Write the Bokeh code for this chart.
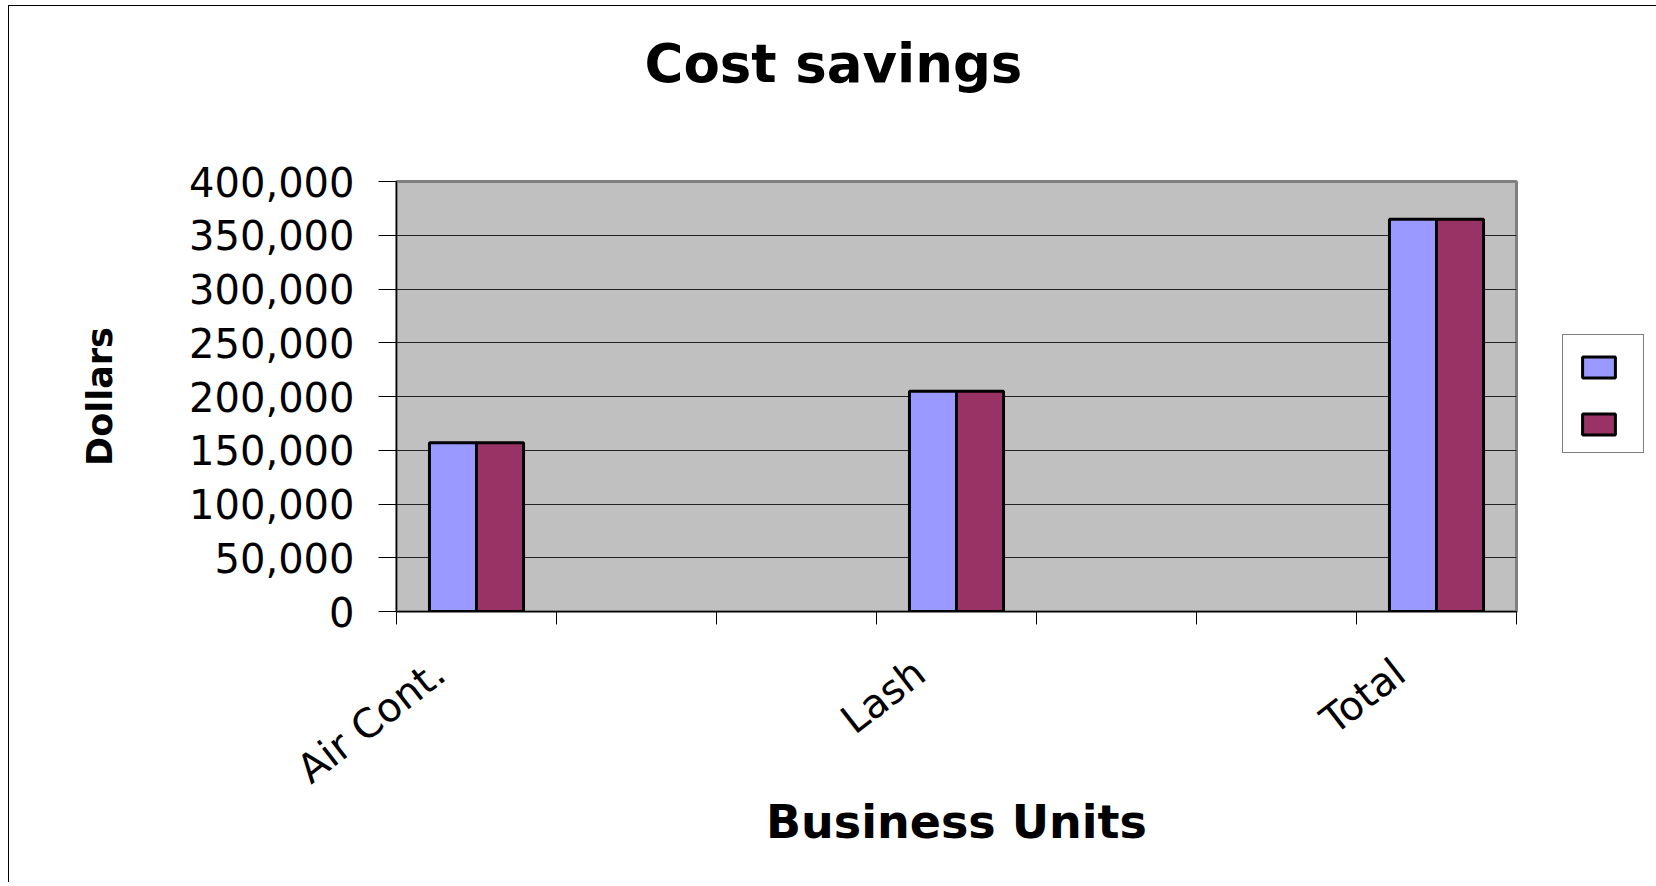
from bokeh.plotting import figure
from bokeh.models import (FixedTicker, NumeralTickFormatter, Range1d, Legend, LegendItem,
                          Title, ColumnDataSource)
from bokeh.transform import dodge
from bokeh.embed import file_html
from bokeh.resources import INLINE
import math

# ---- data ----
categories = ["Air Cont.", "", "", "Lash", "", "", "Total"]
series_a = [157000, None, None, 205000, None, None, 365000]
series_b = [157000, None, None, 205000, None, None, 365000]
y_ticks = [0, 50000, 100000, 150000, 200000, 250000, 300000, 350000, 400000]
title_text = "Cost savings"
x_title = "Business Units"
y_title = "Dollars"

FONT = "DejaVu Sans"

idx = [i for i, c in enumerate(categories) if series_a[i] is not None]
src = ColumnDataSource(dict(
    x=[i + 0.5 for i in idx],
    a=[series_a[i] for i in idx],
    b=[series_b[i] for i in idx],
))

p = figure(frame_width=1120, frame_height=430, output_backend="svg", toolbar_location=None,
           x_range=Range1d(0, len(categories)), y_range=Range1d(0, 400000),
           min_border_left=387, min_border_right=133, min_border_top=175,
           min_border_bottom=271, title=None)
p.styles = {"border-top": "1px solid #000000", "border-left": "1px solid #000000",
            "margin-left": "8px", "margin-top": "5px"}

p.background_fill_color = "#C0C0C0"
p.border_fill_color = "#FFFFFF"
p.outline_line_color = "#808080"
p.outline_line_width = 3

bw = 0.294
r1 = p.vbar(x=dodge("x", -bw / 2, range=p.x_range), top="a", width=bw, source=src,
            fill_color="#9999FF", line_color="#000000", line_width=3)
r2 = p.vbar(x=dodge("x", bw / 2, range=p.x_range), top="b", width=bw, source=src,
            fill_color="#993366", line_color="#000000", line_width=3)

# y axis
p.yaxis.ticker = FixedTicker(ticks=y_ticks)
p.yaxis.formatter = NumeralTickFormatter(format="0,0")
p.yaxis.major_label_text_font = FONT
p.yaxis.major_label_text_font_size = "40px"
p.yaxis.major_label_text_color = "#000000"
p.yaxis.major_tick_out = 18
p.yaxis.major_tick_in = 0
p.yaxis.minor_tick_out = 0
p.yaxis.major_tick_line_color = "#000000"
p.yaxis.axis_line_color = "#000000"
p.yaxis.major_label_standoff = 24
p.yaxis.axis_label = y_title
p.yaxis.axis_label_text_font = FONT
p.yaxis.axis_label_text_font_style = "bold"
p.yaxis.axis_label_text_font_size = "35px"
p.yaxis.axis_label_text_color = "#000000"
p.yaxis.axis_label_standoff = 66

# x axis: category labels placed slightly left of the slot centres, as in the original
label_shift = 0.23
p.xaxis.ticker = FixedTicker(ticks=[i + 0.5 - label_shift for i in idx],
                             minor_ticks=list(range(len(categories) + 1)))
p.xaxis.major_label_overrides = {i + 0.5 - label_shift: categories[i] for i in idx}
p.xaxis.major_label_orientation = 0.66
p.xaxis.major_label_text_font = FONT
p.xaxis.major_label_text_font_size = "40px"
p.xaxis.major_label_text_color = "#000000"
p.xaxis.major_tick_out = 0
p.xaxis.major_tick_in = 0
p.xaxis.minor_tick_out = 13
p.xaxis.minor_tick_in = 0
p.xaxis.minor_tick_line_color = "#000000"
p.xaxis.axis_line_color = "#000000"
p.xaxis.major_label_standoff = 43
p.xaxis.axis_label = x_title
p.xaxis.axis_label_text_font = FONT
p.xaxis.axis_label_text_font_style = "bold"
p.xaxis.axis_label_text_font_size = "46px"
p.xaxis.axis_label_text_color = "#000000"
p.xaxis.axis_label_standoff = -18

p.xgrid.visible = False
p.ygrid.grid_line_color = "#222222"
p.ygrid.grid_line_width = 1

# spacer between frame and title, then the title itself
p.add_layout(Title(text=" ", text_font_size="1px", standoff=83), "above")
p.add_layout(Title(text=title_text, text_font=FONT, text_font_style="bold",
                   text_font_size="53px", text_color="#000000", align="left",
                   offset=248, vertical_align="top", standoff=0), "above")

legend = Legend(items=[LegendItem(label=" ", renderers=[r1]),
                       LegendItem(label=" ", renderers=[r2])],
                location=(46, 158), glyph_width=41, glyph_height=26,
                label_width=9, label_height=26, label_standoff=0, spacing=31,
                padding=15, margin=0, border_line_color="#000000", border_line_width=1,
                label_text_font_size="10px", background_fill_color="#FFFFFF",
                background_fill_alpha=1, title=" ", title_text_font_size="1px",
                title_standoff=3)
p.add_layout(legend, "right")

open("out.html", "w").write(file_html(p, INLINE))
